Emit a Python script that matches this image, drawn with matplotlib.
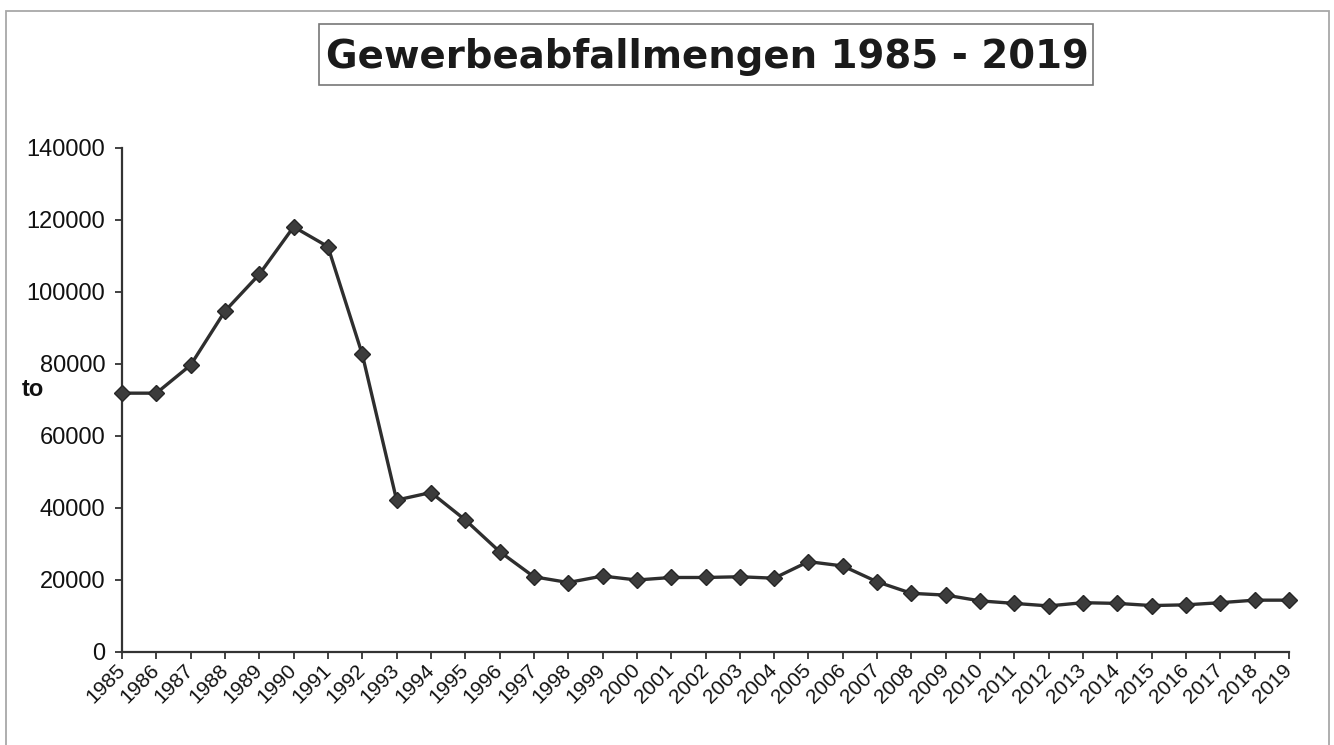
import matplotlib
matplotlib.use("Agg")
import matplotlib.pyplot as plt
from matplotlib.patches import Rectangle

years = list(range(1985, 2020))
tonnes = [71900, 71900, 79700, 94700, 104900, 118100, 112600, 82700, 42200, 44300,
          36700, 27900, 20900, 19300, 21100, 20000, 20700, 20700, 20900, 20500,
          25100, 23900, 19500, 16300, 15800, 14200, 13500, 12800, 13700, 13500,
          12900, 13100, 13700, 14400, 14400]
yticks = list(range(0, 140001, 20000))
title = "Gewerbeabfallmengen 1985 - 2019"
ylabel = "to"

W, H = 1334, 745
fig = plt.figure(figsize=(W / 100, H / 100), dpi=100)
fig.patch.set_facecolor("white")

# outer frame
fig.add_artist(Rectangle((6 / W, -0.01), (1329 - 6) / W, 1 - 11 / H + 0.01,
                         transform=fig.transFigure, fill=False,
                         edgecolor="#a8a8a8", linewidth=1.3))

ax = fig.add_axes([122 / W, 1 - 652 / H, (1289 - 122) / W, (652 - 148) / H])
ax.plot(years, tonnes, color="#2e2e2e", linewidth=2.4, marker="D",
        markersize=8, markerfacecolor="#3c3c3c", markeredgecolor="#262626",
        markeredgewidth=1.0, clip_on=False, zorder=3)

ax.set_xlim(1985, 2019)
ax.set_ylim(0, 140000)
ax.set_yticks(yticks)
ax.set_yticklabels([str(v) for v in yticks], fontfamily="Liberation Sans",
                   fontsize=17, color="#111111")
ax.set_xticks(years)
ax.set_xticklabels([str(y) for y in years], rotation=45, ha="right",
                   va="center", rotation_mode="anchor",
                   fontfamily="Liberation Sans", fontsize=15, color="#111111")
ax.tick_params(axis="both", direction="out", length=5, width=1.3,
               color="#333333")
ax.tick_params(axis="y", pad=7)
ax.tick_params(axis="x", pad=6)
for s in ["top", "right"]:
    ax.spines[s].set_visible(False)
for s in ["left", "bottom"]:
    ax.spines[s].set_color("#333333")
    ax.spines[s].set_linewidth(1.6)

fig.text(22 / W, 1 - 389 / H, ylabel, ha="left", va="center",
         fontfamily="Liberation Sans", fontweight="bold", fontsize=17,
         color="#111111")

fig.text(707 / W, 1 - 57 / H, title, ha="center", va="center",
         fontfamily="DejaVu Sans", fontweight="bold", fontsize=27.8,
         color="#1a1a1a")
fig.add_artist(Rectangle((319 / W, 1 - 85 / H), (1093 - 319) / W, (85 - 24) / H,
                         transform=fig.transFigure, fill=False,
                         edgecolor="#777777", linewidth=1.2))

fig.savefig("out.png", dpi=100, facecolor="white")
